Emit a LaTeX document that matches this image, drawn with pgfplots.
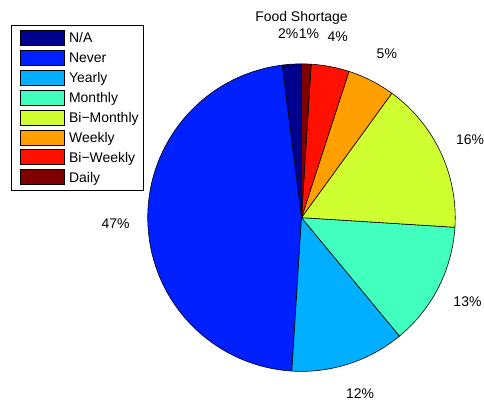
\documentclass[border=0pt]{standalone}
\usepackage{fontspec}
\setmainfont{Liberation Sans}
\usepackage{pgfplots}
\usepackage{pgfplotstable}
\pgfplotsset{compat=1.18}

% jet colours as MATLAB's pie picks them for 8 wedges
\definecolor{c0}{rgb}{0,0,0.5625}
\definecolor{c1}{rgb}{0,0.125,1}
\definecolor{c2}{rgb}{0,0.6875,1}
\definecolor{c3}{rgb}{0.25,1,0.75}
\definecolor{c4}{rgb}{0.8125,1,0.1875}
\definecolor{c5}{rgb}{1,0.625,0}
\definecolor{c6}{rgb}{1,0.0625,0}
\definecolor{c7}{rgb}{0.5,0,0}

\pgfplotstableread[col sep=comma]{
label,value
N/A,2
Never,47
Yearly,12
Monthly,13
Bi−Monthly,16
Weekly,5
Bi−Weekly,4
Daily,1
}\piedata

\newcommand\fs{\fontsize{14bp}{16bp}\selectfont}

\begin{document}
\begin{tikzpicture}
\begin{axis}[
  width=484bp, height=407bp, scale only axis,
  xmin=0, xmax=484, ymin=0, ymax=407,
  enlargelimits=false, hide axis, clip=false,
]
\path (axis cs:0,0) rectangle (axis cs:484,407);
\node[font=\fs, inner sep=0pt, anchor=base] at (axis cs:302,385) {Food Shortage};
\draw[line width=0.6bp, fill=white] (axis cs:11,216) rectangle (axis cs:144,382);
\pgfplotstablegetrowsof{\piedata}
\pgfmathtruncatemacro\nlast{\pgfplotsretval-1}
\gdef\angA{90}
\pgfplotsforeachungrouped \i in {0,...,\nlast}{%
  \pgfplotstablegetelem{\i}{value}\of\piedata \let\val\pgfplotsretval
  \pgfplotstablegetelem{\i}{label}\of\piedata \let\lab\pgfplotsretval
  \pgfmathsetmacro\angB{\angA+3.6*\val}
  \pgfmathsetmacro\angM{(\angA+\angB)/2}
  % labels sit at 1.2 r, nudged a little away from the vertical
  \pgfmathsetmacro\lx{302+184.8*cos(\angM)+1.6*sign(cos(\angM))}
  \pgfmathsetmacro\ly{189+184.8*sin(\angM)-5}
  \pgfmathsetmacro\sy{362-20*\i}
  \pgfmathsetmacro\syt{377-20*\i}
  \pgfmathsetmacro\ty{364.5-20*\i}
  \edef\temp{%
    \noexpand\filldraw[fill=c\i, draw=black, line width=0.6bp] (axis cs:302,189) -- ++(\angA:154bp) arc[start angle=\angA, end angle=\angB, radius=154bp] -- cycle;
    \noexpand\node[font=\noexpand\fs, inner sep=0pt, anchor=base] at (axis cs:\lx,\ly) {\val\noexpand\%};
    \noexpand\draw[fill=c\i, draw=black, line width=0.5bp] (axis cs:20,\sy) rectangle (axis cs:64,\syt);
    \noexpand\node[font=\noexpand\fs, inner sep=0pt, anchor=base west] at (axis cs:69,\ty) {\lab};
  }%
  \temp
  \global\let\angA\angB
}
\end{axis}
\end{tikzpicture}
\end{document}
